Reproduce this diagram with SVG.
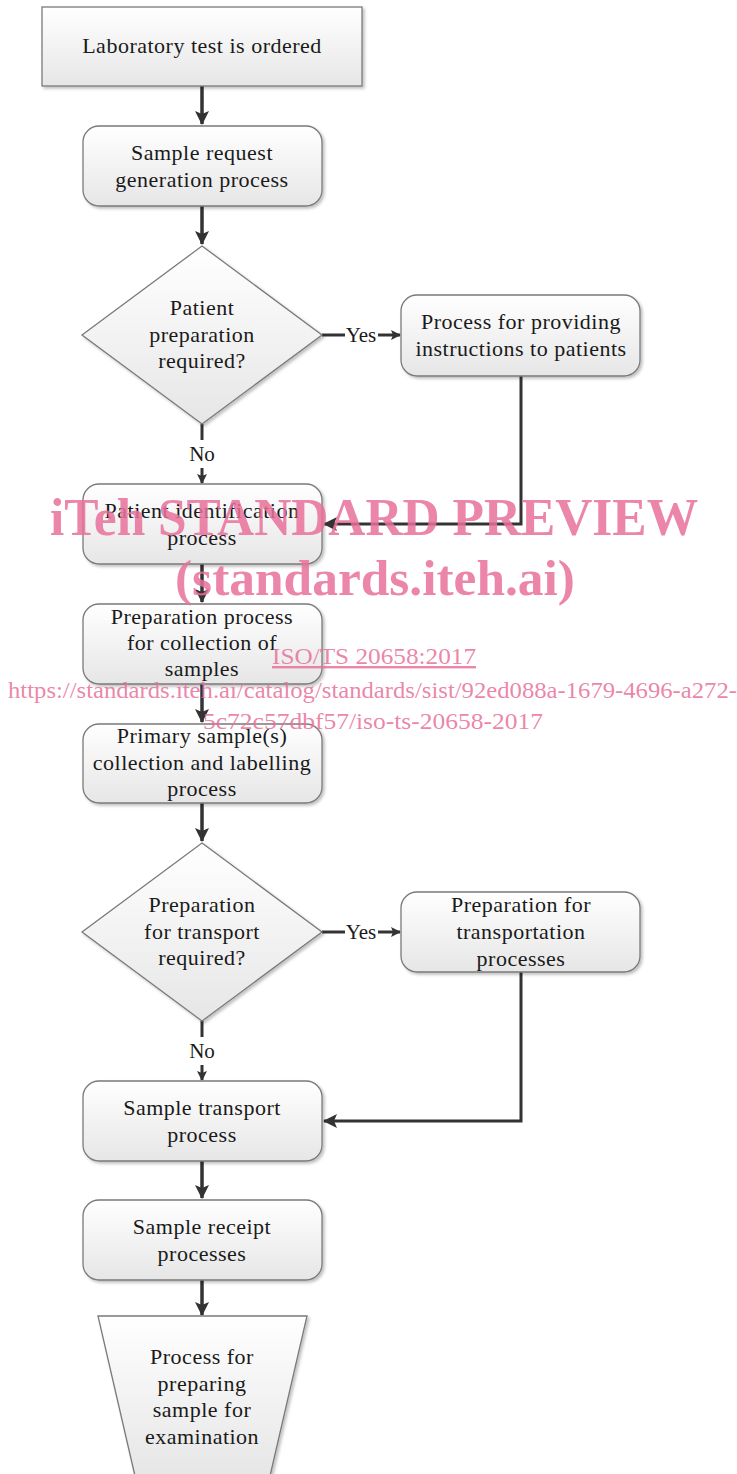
<svg xmlns="http://www.w3.org/2000/svg" width="737" height="1474" viewBox="0 0 737 1474">
<defs>
<linearGradient id="g" x1="0" y1="0" x2="0" y2="1">
<stop offset="0" stop-color="#ffffff"/>
<stop offset="1" stop-color="#e6e6e6"/>
</linearGradient>
<filter id="sh" x="-10%" y="-10%" width="125%" height="125%">
<feDropShadow dx="2" dy="2" stdDeviation="1.5" flood-color="#000" flood-opacity="0.25"/>
</filter>
<marker id="ah" markerWidth="10" markerHeight="10" refX="9" refY="5" orient="auto" markerUnits="userSpaceOnUse" viewBox="0 0 10 10">
<path d="M0,0 L10,5 L0,10 L2,5 Z" fill="#333"/>
</marker>
<marker id="ahb" markerWidth="14" markerHeight="14" refX="13" refY="7" orient="auto" markerUnits="userSpaceOnUse" viewBox="0 0 14 14">
<path d="M0,0 L14,7 L0,14 L3,7 Z" fill="#333"/>
</marker>
</defs>
<style>
.n{fill:url(#g);stroke:#7a7a7a;stroke-width:1.3;filter:url(#sh)}
.t{font-family:"Liberation Serif","DejaVu Serif",serif;font-size:22px;letter-spacing:0.5px;fill:#1a1a1a;text-anchor:middle}
.c{fill:none;stroke:#333;stroke-width:3.5}
.lb{font-family:"Liberation Serif","DejaVu Serif",serif;font-size:21px;fill:#1a1a1a;text-anchor:middle}
.wm{font-family:"Liberation Serif","Times New Roman",serif;fill:#e8709a;fill-opacity:0.85}
</style>
<rect width="737" height="1474" fill="#fff"/>
<g id="connectors">
<path class="c" d="M202,86 V124" marker-end="url(#ahb)"/>
<path class="c" d="M202,206 V244" marker-end="url(#ahb)"/>
<path class="c" d="M322,335 H345" style="stroke-width:3"/>
<text class="lb" x="361" y="342">Yes</text>
<path class="c" d="M378,335 H400" style="stroke-width:3" marker-end="url(#ah)"/>
<path class="c" d="M521,376 V524 H324" style="stroke-width:3" marker-end="url(#ahb)"/>
<path class="c" d="M202,424 V440" style="stroke-width:3"/>
<text class="lb" x="202" y="461">No</text>
<path class="c" d="M202,468 V483" style="stroke-width:3" marker-end="url(#ah)"/>
<path class="c" d="M202,564 V602" marker-end="url(#ahb)"/>
<path class="c" d="M202,684 V722" marker-end="url(#ahb)"/>
<path class="c" d="M202,803 V841" marker-end="url(#ahb)"/>
<path class="c" d="M322,932 H345" style="stroke-width:3"/>
<text class="lb" x="361" y="939">Yes</text>
<path class="c" d="M378,932 H400" style="stroke-width:3" marker-end="url(#ah)"/>
<path class="c" d="M521,972 V1121 H324" style="stroke-width:3" marker-end="url(#ahb)"/>
<path class="c" d="M202,1021 V1037" style="stroke-width:3"/>
<text class="lb" x="202" y="1058">No</text>
<path class="c" d="M202,1065 V1080" style="stroke-width:3" marker-end="url(#ah)"/>
<path class="c" d="M202,1161 V1198" marker-end="url(#ahb)"/>
<path class="c" d="M202,1280 V1315" marker-end="url(#ahb)"/>
</g>
<g id="n1">
<rect class="n" x="42" y="7" width="320" height="79"/>
<text class="t" x="202" y="53">Laboratory test is ordered</text>
</g>
<g id="n2">
<rect class="n" x="83" y="126" width="239" height="80" rx="16"/>
<text class="t" x="202" y="160">Sample request</text>
<text class="t" x="202" y="187">generation process</text>
</g>
<g id="d1">
<polygon class="n" points="202,246 322,335 202,424 82,335"/>
<text class="t" x="202" y="315">Patient</text>
<text class="t" x="202" y="342">preparation</text>
<text class="t" x="202" y="368">required?</text>
</g>
<g id="n3">
<rect class="n" x="401" y="295" width="239" height="81" rx="16"/>
<text class="t" x="521" y="329">Process for providing</text>
<text class="t" x="521" y="356">instructions to patients</text>
</g>
<g id="n4">
<rect class="n" x="83" y="484" width="239" height="80" rx="16"/>
<text class="t" x="202" y="518">Patient identification</text>
<text class="t" x="202" y="545">process</text>
</g>
<g id="n5">
<rect class="n" x="83" y="604" width="239" height="80" rx="16"/>
<text class="t" x="202" y="624">Preparation process</text>
<text class="t" x="202" y="650">for collection of</text>
<text class="t" x="202" y="676">samples</text>
</g>
<g id="n6">
<rect class="n" x="83" y="724" width="239" height="79" rx="16"/>
<text class="t" x="202" y="743">Primary sample(s)</text>
<text class="t" x="202" y="770">collection and labelling</text>
<text class="t" x="202" y="796">process</text>
</g>
<g id="d2">
<polygon class="n" points="202,843 322,932 202,1021 82,932"/>
<text class="t" x="202" y="912">Preparation</text>
<text class="t" x="202" y="939">for transport</text>
<text class="t" x="202" y="965">required?</text>
</g>
<g id="n7">
<rect class="n" x="401" y="892" width="239" height="80" rx="16"/>
<text class="t" x="521" y="912">Preparation for</text>
<text class="t" x="521" y="939">transportation</text>
<text class="t" x="521" y="966">processes</text>
</g>
<g id="n8">
<rect class="n" x="83" y="1081" width="239" height="80" rx="16"/>
<text class="t" x="202" y="1115">Sample transport</text>
<text class="t" x="202" y="1142">process</text>
</g>
<g id="n9">
<rect class="n" x="83" y="1200" width="239" height="80" rx="16"/>
<text class="t" x="202" y="1234">Sample receipt</text>
<text class="t" x="202" y="1261">processes</text>
</g>
<g id="n10">
<polygon class="n" points="98,1316 307,1316 270,1476 135,1476"/>
<text class="t" x="202" y="1364">Process for</text>
<text class="t" x="202" y="1391">preparing</text>
<text class="t" x="202" y="1417">sample for</text>
<text class="t" x="202" y="1444">examination</text>
</g>
<g id="watermark">
<text class="wm" x="50" y="535" font-size="52" font-weight="bold" textLength="648" lengthAdjust="spacingAndGlyphs">iTeh STANDARD PREVIEW</text>
<text class="wm" x="175" y="595" font-size="50" font-weight="bold" textLength="400" lengthAdjust="spacingAndGlyphs">(standards.iteh.ai)</text>
<text class="wm" x="272" y="664" font-size="24" text-decoration="underline" textLength="204" lengthAdjust="spacingAndGlyphs">ISO/TS 20658:2017</text>
<text class="wm" x="8" y="698" font-size="24" textLength="729" lengthAdjust="spacingAndGlyphs">https://standards.iteh.ai/catalog/standards/sist/92ed088a-1679-4696-a272-</text>
<text class="wm" x="203" y="729" font-size="24" textLength="340" lengthAdjust="spacingAndGlyphs">5c72c57dbf57/iso-ts-20658-2017</text>
</g>
</svg>
